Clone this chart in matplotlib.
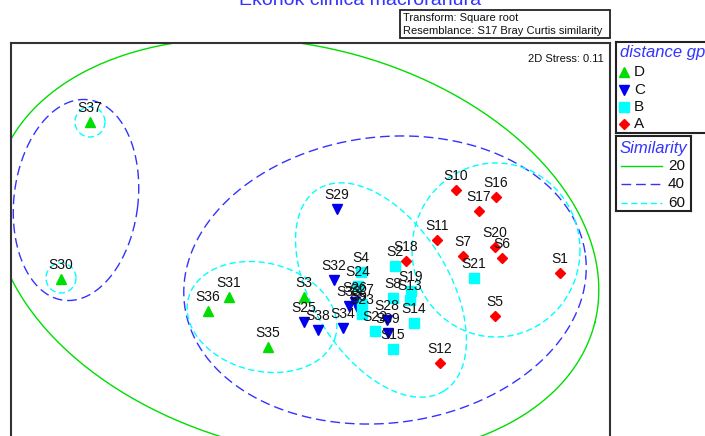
import numpy as np
import matplotlib
matplotlib.use("Agg")
import matplotlib.pyplot as plt
from matplotlib.patches import Rectangle

plt.rcParams['font.family'] = ['Liberation Sans', 'DejaVu Sans']

# sample positions (screen units, y grows downward)
d_names = ["S37", "S30", "S31", "S36", "S3", "S35"]
d_x = [90, 61, 229, 208, 304, 268]
d_y = [122, 279, 297, 311, 297, 347]

c_names = ["S29", "S32", "S25", "S38", "S34", "S33", "S26", "S9", "S28", "S39"]
c_x = [337, 334, 304, 318, 343, 349, 355, 359, 387, 388]
c_y = [209, 280, 322, 330, 328, 306, 302, 311, 320, 333]

b_names = ["S2", "S4", "S24", "S27", "S23", "S8", "S19", "S13", "S14", "S22", "S15", "S21"]
b_x = [395, 361, 358, 362, 362, 393, 411, 410, 414, 375, 393, 474]
b_y = [266, 272, 286, 304, 314, 298, 291, 300, 323, 331, 349, 278]

a_names = ["S18", "S11", "S10", "S16", "S17", "S20", "S6", "S7", "S1", "S5", "S12"]
a_x = [406, 437, 456, 496, 479, 495, 502, 463, 560, 495, 440]
a_y = [261, 240, 190, 197, 211, 247, 258, 256, 273, 316, 363]

# similarity contours as ellipses: centre x, centre y, semi axis a, semi axis b, tilt (deg)
sim20 = [(296, 248, 308, 202, 14)]
sim40 = [(76, 200, 62, 101, 7), (385, 280, 202, 143, -7)]
sim60 = [(90, 122, 15, 15, 0), (61, 278, 15, 15, 0), (262, 317, 76, 54, 14),
         (381, 290, 119, 68, 58), (496, 250, 84, 87, 0)]

green = '#00dd00'
blue = '#0000ee'
cyan = '#00ffff'
red = '#ff0000'
line_blue = '#3333ff'


def ellipse_xy(cx, cy, a, b, ang):
    t = np.linspace(0, 2 * np.pi, 300)
    th = np.radians(ang)
    x = cx + a * np.cos(t) * np.cos(th) - b * np.sin(t) * np.sin(th)
    y = cy + a * np.cos(t) * np.sin(th) + b * np.sin(t) * np.cos(th)
    return x, y


W, H = 705, 436
fig = plt.figure(figsize=(W / 100, H / 100), dpi=100)

# main plot box (its bottom runs off the picture)
left, top, right, bottom = 11, 43, 610, 470
ax = fig.add_axes([left / W, (H - bottom) / H, (right - left) / W, (bottom - top) / H])
ax.set_xlim(left, right)
ax.set_ylim(bottom, top)
ax.set_xticks([])
ax.set_yticks([])
for s in ax.spines.values():
    s.set_color('#333333')
    s.set_linewidth(1.5)

for e in sim20:
    x, y = ellipse_xy(*e)
    ax.plot(x, y, color=green, lw=1.0)
for e in sim40:
    x, y = ellipse_xy(*e)
    ax.plot(x, y, color=line_blue, lw=1.0, dashes=(7, 3.5))
for e in sim60:
    x, y = ellipse_xy(*e)
    ax.plot(x, y, color=cyan, lw=1.0, dashes=(4.5, 2.5))

groups = [
    (d_names, d_x, d_y, '^', green, 7.5),
    (c_names, c_x, c_y, 'v', blue, 7.5),
    (b_names, b_x, b_y, 's', cyan, 6.5),
    (a_names, a_x, a_y, 'D', red, 5.5),
]
for names, xs, ys, m, col, ms in groups:
    ax.plot(xs, ys, ls='none', marker=m, color=col, markersize=ms, mec=col, zorder=3)
    for n, x, y in zip(names, xs, ys):
        ax.annotate(n, (x, y), xytext=(0, 7), textcoords='offset points',
                    ha='center', va='baseline', fontsize=10, color='#111111', zorder=4)

ax.text(0.99, 0.975, "2D Stress: 0.11", transform=ax.transAxes, ha='right', va='top',
        fontsize=8, color='#111111')

# title (cut at the top edge)
fig.text(360 / W, 1 - 5 / H, "Ekonok clinica macroranura", ha='center', va='baseline',
         fontsize=14, color=line_blue)

# transform box
fig.patches.append(Rectangle((400 / W, 1 - 38 / H), 210 / W, 28 / H, transform=fig.transFigure,
                             fc='white', ec='#222222', lw=1.3))
fig.text(403 / W, 1 - 18 / H, "Transform: Square root", ha='left', va='center',
         fontsize=8, color='#111111')
fig.text(403 / W, 1 - 31 / H, "Resemblance: S17 Bray Curtis similarity", ha='left', va='center',
         fontsize=8, color='#111111')

# legend box for the groups
lg1 = fig.add_axes([616 / W, (H - 133) / H, 100 / W, 91 / H])
lg1.set_xlim(616, 716)
lg1.set_ylim(133, 42)
lg1.set_xticks([])
lg1.set_yticks([])
for s in lg1.spines.values():
    s.set_color('#222222')
    s.set_linewidth(1.5)
lg1.text(620, 53, "distance gp", style='italic', fontsize=12, color=line_blue,
         ha='left', va='center')
leg_labels = ["D", "C", "B", "A"]
leg_y = [72, 90, 107, 124]
for (names, xs, ys, m, col, ms), lab, yy in zip(groups, leg_labels, leg_y):
    lg1.plot([624], [yy], marker=m, color=col, markersize=ms, ls='none')
    lg1.text(634, yy, lab, fontsize=11, ha='left', va='center', color='#111111')

# legend box for the similarity levels
lg2 = fig.add_axes([616 / W, (H - 211) / H, 75 / W, 75 / H])
lg2.set_xlim(616, 691)
lg2.set_ylim(211, 136)
lg2.set_xticks([])
lg2.set_yticks([])
for s in lg2.spines.values():
    s.set_color('#222222')
    s.set_linewidth(1.5)
lg2.text(620, 148, "Similarity", style='italic', fontsize=12, color=line_blue,
         ha='left', va='center')
sim_levels = ["20", "40", "60"]
sim_y = [166, 184, 203]
lg2.plot([621, 662], [sim_y[0], sim_y[0]], color=green, lw=1.0)
lg2.plot([621, 662], [sim_y[1], sim_y[1]], color=line_blue, lw=1.0, dashes=(7, 3.5))
lg2.plot([621, 662], [sim_y[2], sim_y[2]], color=cyan, lw=1.0, dashes=(4.5, 2.5))
for lab, yy in zip(sim_levels, sim_y):
    lg2.text(668, yy, lab, fontsize=11, ha='left', va='center', color='#111111')

fig.savefig("out.png", dpi=100)
